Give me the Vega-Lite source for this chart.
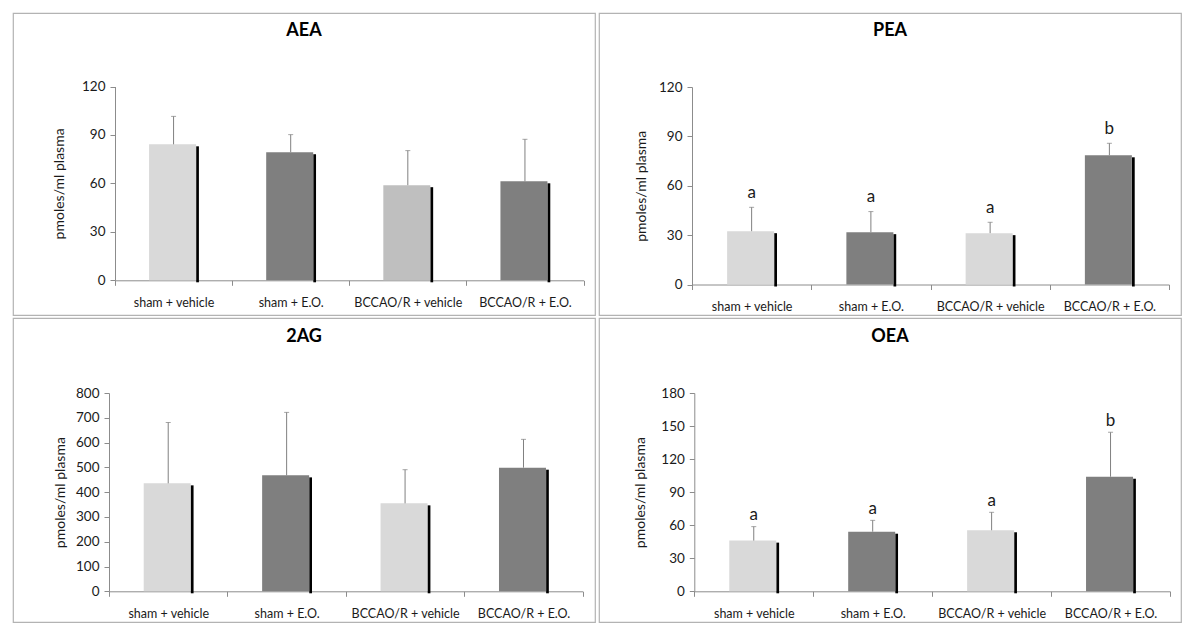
{
  "$schema": "https://vega.github.io/schema/vega-lite/v6.json",
  "padding": {"left": 12, "top": 12, "right": 0, "bottom": 0},
  "background": "white",
  "config": {
    "font": "Lato",
    "view": {"stroke": "#b3b3b3", "strokeWidth": 1.2},
    "axis": {"domainColor": "#8c8c8c", "tickColor": "#8c8c8c", "grid": false, "labelFont": "Lato", "labelColor": "#1a1a1a", "titleFont": "Lato", "titleFontWeight": "normal", "titleColor": "#1a1a1a", "tickSize": 5, "labelOverlap": false},
    "axisX": {"labelAngle": 0, "labelFontSize": 12.5, "labelPadding": 11, "tickBand": "extent"},
    "axisY": {"labelFontSize": 13.5, "labelPadding": 5, "titleFontSize": 14, "titleBaseline": "middle"},
    "title": {"font": "Lato", "fontSize": 18, "fontWeight": "bold", "color": "#000000", "frame": "group", "anchor": "middle", "offset": 0, "baseline": "alphabetic"},
    "text": {"font": "Lato", "fontSize": 17, "color": "#1a1a1a"}
  },
  "datasets": {
    "aea": [
      {"group": "sham + vehicle", "mean": 84.2, "err": 101.5},
      {"group": "sham + E.O.", "mean": 79.3, "err": 90.2},
      {"group": "BCCAO/R + vehicle", "mean": 58.9, "err": 80.3},
      {"group": "BCCAO/R + E.O.", "mean": 61.3, "err": 87.3}
    ],
    "pea": [
      {"group": "sham + vehicle", "mean": 32.4, "err": 46.9, "letter": "a"},
      {"group": "sham + E.O.", "mean": 31.8, "err": 44.3, "letter": "a"},
      {"group": "BCCAO/R + vehicle", "mean": 31.2, "err": 37.8, "letter": "a"},
      {"group": "BCCAO/R + E.O.", "mean": 78.5, "err": 85.8, "letter": "b"}
    ],
    "ag": [
      {"group": "sham + vehicle", "mean": 435.5, "err": 681},
      {"group": "sham + E.O.", "mean": 467.7, "err": 721.8},
      {"group": "BCCAO/R + vehicle", "mean": 354.8, "err": 490.6},
      {"group": "BCCAO/R + E.O.", "mean": 498.7, "err": 613}
    ],
    "oea": [
      {"group": "sham + vehicle", "mean": 46, "err": 58.7, "letter": "a"},
      {"group": "sham + E.O.", "mean": 54.1, "err": 64.4, "letter": "a"},
      {"group": "BCCAO/R + vehicle", "mean": 55.4, "err": 71.7, "letter": "a"},
      {"group": "BCCAO/R + E.O.", "mean": 104, "err": 144.3, "letter": "b"}
    ]
  },
  "spacing": 1,
  "resolve": {"scale": {"color": "independent", "x": "independent", "y": "independent"}},
  "vconcat": [
    {
      "spacing": 2,
      "resolve": {"scale": {"color": "independent", "x": "independent", "y": "independent"}},
      "hconcat": [
        {
          "width": 582, "height": 302,
          "title": {"text": "AEA", "dy": 30.7},
          "data": {"name": "aea"},
          "encoding": {
            "x": {"field": "group", "type": "nominal", "sort": null, "title": null,
              "scale": {"domain": ["sham + vehicle", "sham + E.O.", "BCCAO/R + vehicle", "BCCAO/R + E.O."], "range": [102, 570.5], "paddingInner": 0, "paddingOuter": 0},
              "axis": {"offset": -34.7}}
          },
          "layer": [
            {"mark": {"type": "bar", "width": 47, "xOffset": -1},
             "encoding": {
               "y": {"field": "mean", "type": "quantitative", "title": "pmoles/ml plasma",
                 "scale": {"domain": [0, 120], "range": [267.3, 73.5], "nice": false, "zero": true},
                 "axis": {"values": [0, 30, 60, 90, 120], "offset": -102, "titleX": -55.7, "labelOverlap": false}},
               "color": {"field": "group", "type": "nominal", "legend": null,
                 "scale": {"domain": ["sham + vehicle", "sham + E.O.", "BCCAO/R + vehicle", "BCCAO/R + E.O."], "range": ["#d9d9d9", "#7f7f7f", "#bfbfbf", "#7f7f7f"]}}
             }},
            {"mark": {"type": "bar", "width": 2.7, "xOffset": 24, "yOffset": 2, "color": "#000000"},
             "encoding": {"y": {"field": "mean", "type": "quantitative", "title": "pmoles/ml plasma"}}},
            {"mark": {"type": "rule", "color": "#808080", "strokeWidth": 1},
             "encoding": {"y": {"field": "mean", "type": "quantitative", "title": "pmoles/ml plasma"}, "y2": {"field": "err"}}},
            {"mark": {"type": "tick", "size": 5, "thickness": 1, "color": "#808080"},
             "encoding": {"y": {"field": "err", "type": "quantitative", "title": "pmoles/ml plasma"}}}
          ]
        },
        {
          "width": 582, "height": 302,
          "title": {"text": "PEA", "dy": 31.3},
          "data": {"name": "pea"},
          "encoding": {
            "x": {"field": "group", "type": "nominal", "sort": null, "title": null,
              "scale": {"domain": ["sham + vehicle", "sham + E.O.", "BCCAO/R + vehicle", "BCCAO/R + E.O."], "range": [93, 570], "paddingInner": 0, "paddingOuter": 0},
              "axis": {"offset": -30.5}}
          },
          "layer": [
            {"mark": {"type": "bar", "width": 47, "xOffset": -1},
             "encoding": {
               "y": {"field": "mean", "type": "quantitative", "title": "pmoles/ml plasma",
                 "scale": {"domain": [0, 120], "range": [271.5, 74], "nice": false, "zero": true},
                 "axis": {"values": [0, 30, 60, 90, 120], "offset": -93, "titleX": -51, "labelOverlap": false}},
               "color": {"field": "group", "type": "nominal", "legend": null,
                 "scale": {"domain": ["sham + vehicle", "sham + E.O.", "BCCAO/R + vehicle", "BCCAO/R + E.O."], "range": ["#d9d9d9", "#7f7f7f", "#d9d9d9", "#7f7f7f"]}}
             }},
            {"mark": {"type": "bar", "width": 2.7, "xOffset": 24, "yOffset": 2, "color": "#000000"},
             "encoding": {"y": {"field": "mean", "type": "quantitative", "title": "pmoles/ml plasma"}}},
            {"mark": {"type": "rule", "color": "#808080", "strokeWidth": 1},
             "encoding": {"y": {"field": "mean", "type": "quantitative", "title": "pmoles/ml plasma"}, "y2": {"field": "err"}}},
            {"mark": {"type": "tick", "size": 5, "thickness": 1, "color": "#808080"},
             "encoding": {"y": {"field": "err", "type": "quantitative", "title": "pmoles/ml plasma"}}},
            {"mark": {"type": "text", "baseline": "alphabetic", "dy": -9.5},
             "encoding": {"y": {"field": "err", "type": "quantitative", "title": "pmoles/ml plasma"}, "text": {"field": "letter"}}}
          ]
        }
      ]
    },
    {
      "spacing": 2,
      "resolve": {"scale": {"color": "independent", "x": "independent", "y": "independent"}},
      "hconcat": [
        {
          "width": 582, "height": 304,
          "title": {"text": "2AG", "dy": 32.3},
          "data": {"name": "ag"},
          "encoding": {
            "x": {"field": "group", "type": "nominal", "sort": null, "title": null,
              "scale": {"domain": ["sham + vehicle", "sham + E.O.", "BCCAO/R + vehicle", "BCCAO/R + E.O."], "range": [96, 569.7], "paddingInner": 0, "paddingOuter": 0},
              "axis": {"offset": -30.7}}
          },
          "layer": [
            {"mark": {"type": "bar", "width": 47, "xOffset": -1},
             "encoding": {
               "y": {"field": "mean", "type": "quantitative", "title": "pmoles/ml plasma",
                 "scale": {"domain": [0, 800], "range": [273.3, 75], "nice": false, "zero": true},
                 "axis": {"values": [0, 100, 200, 300, 400, 500, 600, 700, 800], "tickCount": 9, "offset": -96, "titleX": -48.7, "labelOverlap": false}},
               "color": {"field": "group", "type": "nominal", "legend": null,
                 "scale": {"domain": ["sham + vehicle", "sham + E.O.", "BCCAO/R + vehicle", "BCCAO/R + E.O."], "range": ["#d9d9d9", "#7f7f7f", "#d9d9d9", "#7f7f7f"]}}
             }},
            {"mark": {"type": "bar", "width": 2.7, "xOffset": 24, "yOffset": 2, "color": "#000000"},
             "encoding": {"y": {"field": "mean", "type": "quantitative", "title": "pmoles/ml plasma"}}},
            {"mark": {"type": "rule", "color": "#808080", "strokeWidth": 1},
             "encoding": {"y": {"field": "mean", "type": "quantitative", "title": "pmoles/ml plasma"}, "y2": {"field": "err"}}},
            {"mark": {"type": "tick", "size": 5, "thickness": 1, "color": "#808080"},
             "encoding": {"y": {"field": "err", "type": "quantitative", "title": "pmoles/ml plasma"}}}
          ]
        },
        {
          "width": 582, "height": 304,
          "title": {"text": "OEA", "dy": 32.3},
          "data": {"name": "oea"},
          "encoding": {
            "x": {"field": "group", "type": "nominal", "sort": null, "title": null,
              "scale": {"domain": ["sham + vehicle", "sham + E.O.", "BCCAO/R + vehicle", "BCCAO/R + E.O."], "range": [95.3, 571], "paddingInner": 0, "paddingOuter": 0},
              "axis": {"offset": -30.7}}
          },
          "layer": [
            {"mark": {"type": "bar", "width": 47, "xOffset": -1},
             "encoding": {
               "y": {"field": "mean", "type": "quantitative", "title": "pmoles/ml plasma",
                 "scale": {"domain": [0, 180], "range": [273.3, 75], "nice": false, "zero": true},
                 "axis": {"values": [0, 30, 60, 90, 120, 150, 180], "offset": -95.3, "titleX": -54, "labelOverlap": false}},
               "color": {"field": "group", "type": "nominal", "legend": null,
                 "scale": {"domain": ["sham + vehicle", "sham + E.O.", "BCCAO/R + vehicle", "BCCAO/R + E.O."], "range": ["#d9d9d9", "#7f7f7f", "#d9d9d9", "#7f7f7f"]}}
             }},
            {"mark": {"type": "bar", "width": 2.7, "xOffset": 24, "yOffset": 2, "color": "#000000"},
             "encoding": {"y": {"field": "mean", "type": "quantitative", "title": "pmoles/ml plasma"}}},
            {"mark": {"type": "rule", "color": "#808080", "strokeWidth": 1},
             "encoding": {"y": {"field": "mean", "type": "quantitative", "title": "pmoles/ml plasma"}, "y2": {"field": "err"}}},
            {"mark": {"type": "tick", "size": 5, "thickness": 1, "color": "#808080"},
             "encoding": {"y": {"field": "err", "type": "quantitative", "title": "pmoles/ml plasma"}}},
            {"mark": {"type": "text", "baseline": "alphabetic", "dy": -6.5},
             "encoding": {"y": {"field": "err", "type": "quantitative", "title": "pmoles/ml plasma"}, "text": {"field": "letter"}}}
          ]
        }
      ]
    }
  ]
}
